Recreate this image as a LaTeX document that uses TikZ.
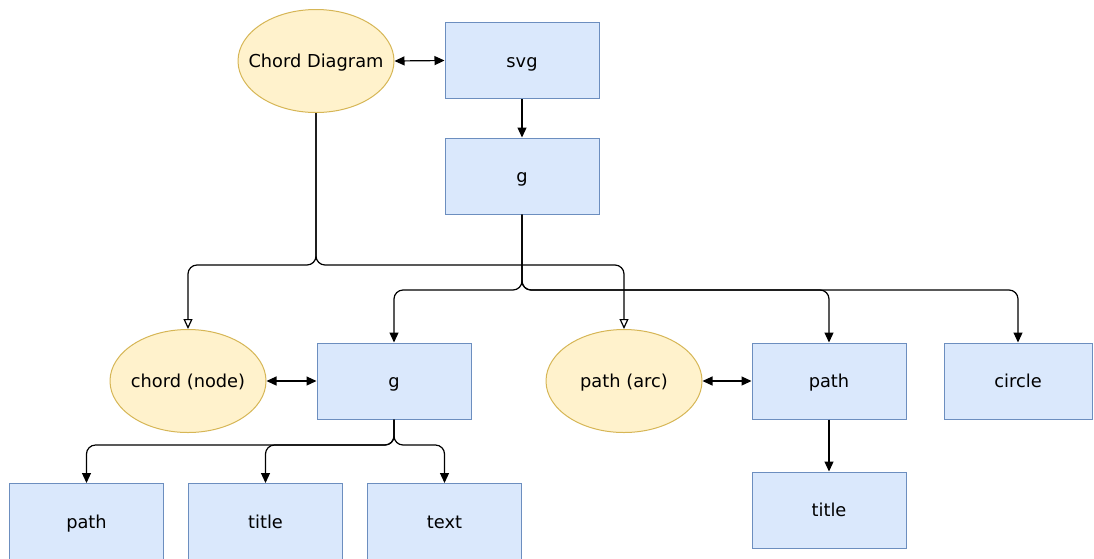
\documentclass[tikz,border=0pt]{standalone}
\usepackage{fontspec}
\setmainfont{DejaVu Sans}
\usetikzlibrary{arrows.meta,shapes.geometric}
\definecolor{boxfill}{HTML}{DAE8FC}
\definecolor{boxline}{HTML}{6C8EBF}
\definecolor{ellfill}{HTML}{FFF2CC}
\definecolor{ellline}{HTML}{D6B656}
\tikzset{
  lbl/.style={font=\fontsize{17.8}{21}\selectfont, text height=13.5pt, text depth=0pt},
  elem/.style={draw=boxline, fill=boxfill, line width=1pt, minimum width=154pt, minimum height=76pt, inner sep=0pt, lbl},
  concept/.style={ellipse, draw=ellline, fill=ellfill, line width=1pt, minimum width=156pt, minimum height=103pt, inner sep=0pt},
  caption/.style={lbl, inner sep=0pt},
  tip/.style={Triangle[width=9pt,length=10pt]},
  link/.style={line width=1.2pt, rounded corners=9pt, -{Triangle[width=9pt,length=10pt]}},
  both/.style={line width=1.2pt, {Triangle[width=9pt,length=10pt]}-{Triangle[width=9pt,length=10pt]}},
  bound/.style={line width=1.2pt, rounded corners=9pt, -{Triangle[open,width=9pt,length=10pt,fill=white]}}
}
\begin{document}
\begin{tikzpicture}[x=1pt,y=-1pt]
\useasboundingbox (0,0) rectangle (1094,558);
\clip (0,0) rectangle (1094,558);

% concepts (shape and caption kept apart so the ellipse keeps its size)
\node[concept] (cd) at (316,61) {};
\node[caption] (cdt) at (cd.center) {Chord Diagram};
\node[concept] (cn) at (188,381) {};
\node[caption] (cnt) at (cn.center) {chord (node)};
\node[concept] (pa) at (624,381) {};
\node[caption] (pat) at (pa.center) {path (arc)};

% svg elements
\node[elem] (svg) at (522,60.5) {svg};
\node[elem] (g0) at (522,176) {g};
\node[elem] (g1) at (394,381) {g};
\node[elem] (p1) at (829,381) {path};
\node[elem, minimum width=148pt] (ci) at (1018,381) {circle};
\node[elem] (p2) at (86.5,521.5) {path};
\node[elem] (t1) at (265.5,521.5) {title};
\node[elem] (tx) at (444.5,521.5) {text};
\node[elem] (t2) at (829,510) {title};

% junction levels
\coordinate (jc) at (316,265);
\coordinate (jg) at (522,290);
\coordinate (jb) at (394,445);

% concept bindings
\draw[bound] (cd.south) -- (cd.south |- jc) -| (cn.north);
\draw[bound] (cd.south) -- (cd.south |- jc) -| (pa.north);

\draw[both] (cd.east) -- (svg.west);
\draw[both] (cn.east) -- (g1.west);
\draw[both] (pa.east) -- (p1.west);

% element tree
\draw[link] (svg.south) -- (g0.north);
\draw[link] (g0.south) -- (g0.south |- jg) -| (g1.north);
\draw[link] (g0.south) -- (g0.south |- jg) -| (p1.north);
\draw[link] (g0.south) -- (g0.south |- jg) -| (ci.north);
\draw[link] (g1.south) -- (g1.south |- jb) -| (p2.north);
\draw[link] (g1.south) -- (g1.south |- jb) -| (t1.north);
\draw[link] (g1.south) -- (g1.south |- jb) -| (tx.north);
\draw[link] (p1.south) -- (t2.north);
\end{tikzpicture}
\end{document}
